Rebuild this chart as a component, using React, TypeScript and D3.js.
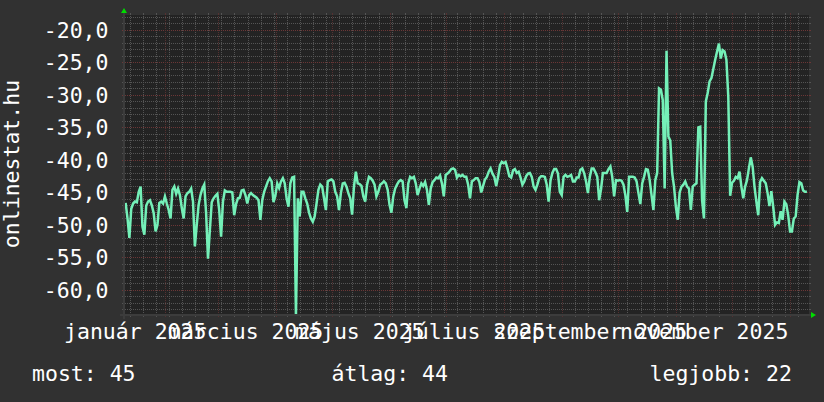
import React from "react";
import * as d3 from "d3";

// ---------- data ----------
const MONTH_NAMES = [
  "január", "február", "március", "április", "május", "június",
  "július", "augusztus", "szeptember", "október", "november", "december",
];

// first daily sample (local time)
const DATA_START = new Date(2025, 0, 10, 21);

// daily values as plotted (negated rank), 365 days
const VALUES = [
  -46.6, -49, -52, -47.5, -46.7, -46.4, -46.5, -44.9, -44.1, -50.3,
  -51.5, -47, -46.4, -46.2, -47, -48.2, -51, -50, -46.6, -46.4,
  -46.7, -45.6, -46.7, -47.7, -49, -44.6, -44.1, -45.2, -44.4, -45.4,
  -47.4, -49, -45.6, -45.1, -44.9, -44.4, -46.4, -53.3, -50, -46.9,
  -45.4, -44.4, -43.8, -48.2, -55.2, -50.8, -46.5, -45.9, -45.5, -45.2,
  -47.7, -51.8, -46.4, -44.7, -44.9, -44.9, -44.9, -45, -48.5, -46.8,
  -45.9, -45.8, -44.7, -44.6, -45.4, -46.7, -45.4, -45.1, -45.4, -45.6,
  -45.8, -46.2, -49.2, -46.2, -44.9, -44.1, -43.3, -42.8, -43.3, -46.5,
  -45.5, -43.6, -44.3, -43.3, -42.8, -43.6, -45.9, -47.2, -43.6, -42.7,
  -42.6, -64, -45.9, -48.7, -44.9, -44.9, -45.9, -46.7, -48.1, -49,
  -49.5, -48.7, -46.7, -44.6, -43.8, -44.1, -45.9, -47.7, -43.3, -43.1,
  -43, -43.3, -44.9, -45.6, -47.7, -45.1, -43.6, -43.5, -44.1, -45.1,
  -45.9, -48.4, -44.1, -41.8, -43.6, -43.7, -44, -45.6, -46.4, -43.8,
  -42.6, -42.8, -43.2, -43.8, -45.6, -44.9, -43.8, -43.6, -43.3, -43.6,
  -44.6, -46.9, -48.1, -45.6, -44.4, -43.8, -43.3, -43.1, -43.3, -46.2,
  -47.4, -43.6, -42.6, -42.8, -42.6, -43.6, -45.4, -44.4, -43.6, -44,
  -43.4, -44.6, -46.9, -44.4, -43.4, -43.1, -42.7, -42.8, -42.4, -43.6,
  -45.6, -42.3, -42.1, -41.8, -41.4, -41.3, -41.5, -42.7, -42.3, -42.5,
  -42.3, -42.6, -42.6, -43.8, -45.9, -43.3, -43.1, -42.8, -42.8, -43.4,
  -45, -44, -43, -42.6, -41.8, -41.3, -42.1, -42.6, -44, -42.6,
  -40.8, -40.3, -40.5, -40.3, -41.3, -42.5, -42.7, -41.6, -41.4, -42,
  -41.8, -42.7, -43.8, -43.3, -42.5, -42.1, -42, -42.6, -44.1, -44.6,
  -43.8, -42.8, -42.5, -42.5, -42.6, -43.8, -46.4, -43.2, -42, -41.4,
  -41.4, -42.1, -44.9, -45.4, -42.6, -42.3, -42.6, -42.5, -42.3, -43.3,
  -43.3, -42.7, -42.7, -41.5, -41.3, -42.05, -43.3, -45.1, -42.6, -41.3,
  -41.3, -41.9, -42.6, -46.2, -44.5, -42, -42, -42, -41.4, -41,
  -42.6, -45.6, -43.1, -43.2, -43.1, -43.2, -43.8, -45.4, -48, -42.6,
  -42.6, -42.6, -42.7, -43.3, -45.1, -46.8, -43.6, -42.6, -41.4, -41.5,
  -43.1, -45.4, -47.7, -43.1, -42, -29, -29.2, -30.8, -44.4, -23.2,
  -36.4, -37, -42, -44.1, -47.2, -49.2, -45, -44.1, -43.8, -43.3,
  -44.1, -44.4, -47.7, -44.1, -43.8, -43.6, -35, -34.9, -46.2, -49,
  -31, -29.7, -27.9, -27.4, -26, -24.6, -23.3, -22.1, -24.4, -23.1,
  -23.3, -24.6, -30.3, -45.5, -43.5, -43.2, -42.6, -42.8, -41.8, -44.1,
  -45.9, -44.1, -43.1, -41.3, -39.6, -41, -44.1, -46.4, -48.5, -43.4,
  -42.8, -43.2, -43.6, -45.1, -47.1, -44.8, -47.2, -50, -49.6, -49.7,
  -47.9, -49.2, -46.4, -46.8, -48.5, -51, -51, -49, -48.7, -45.4,
  -43.4, -43.6, -44.7, -44.9, -44.9,
];

const Y_TICKS = [-20, -25, -30, -35, -40, -45, -50, -55, -60];
const AXIS_TITLE = "onlinestat.hu";
const LEGEND_LABELS = ["most", "átlag", "legjobb"];
const LEGEND_VALUES = [45, 44, 22];

// ---------- layout ----------
const W = 824;
const H = 402;
const X0 = 124;
const X1 = 809;
const Y0 = 315; // bottom of plot
const Y1 = 15; // top of plot
const T_START = new Date(2025, 0, 10);
const T_END = new Date(2026, 0, 11);
const V_MIN = -63.85;
const V_MAX = -17.7;

const BACK = "#313131";
const CANVAS = "#232323";
const GRID = "#545454";
const MGRID = "#6c3636";
const MGRID_V = "#553131";
const AXIS = "#3c3c3c";
const ARROW = "#00dd00";
const LINE = "#74f0b8";
const FONT = "'DejaVu Sans Mono', monospace";
const FS = 21.5;
const LEGEND_X = [32, 331.5, 649.5];

export default function App() {
  const x = d3.scaleTime().domain([T_START, T_END]).range([X0, X1]);
  const y = d3.scaleLinear().domain([V_MIN, V_MAX]).range([Y0, Y1]);

  const pts = VALUES.map((v, i) => ({ t: d3.timeDay.offset(DATA_START, i), v }));
  const path = d3
    .line<{ t: Date; v: number }>()
    .x((d) => x(d.t))
    .y((d) => y(d.v))(pts) as string;

  const hVals = d3.range(Math.ceil(V_MIN), Math.floor(V_MAX) + 1);
  const hMinor = hVals.filter((v) => v % 5 !== 0);
  const hMajor = hVals.filter((v) => v % 5 === 0);

  const months = d3.timeMonth.range(T_START, T_END);
  const monthKeys = new Set(months.map((m) => +m));
  const weeks = d3.timeMonday.range(T_START, T_END).filter((w) => !monthKeys.has(+w));

  const labelMonths = d3
    .timeMonth.range(d3.timeYear.floor(T_START), T_END)
    .filter((m) => m.getMonth() % 2 === 0)
    .map((m) => ({ m, t: d3.timeDay.offset(m, 15) }))
    .filter((d) => d.t <= T_END);

  const px = (v: number) => Math.round(v) + 0.5;

  const hLine = (v: number, color: string, key: string) => {
    const yy = px(y(v));
    return (
      <g key={key}>
        <line x1={X0 - 2} x2={X0} y1={yy} y2={yy} stroke={color} strokeWidth={1} />
        <line x1={X1} x2={X1 + 2} y1={yy} y2={yy} stroke={color} strokeWidth={1} />
        <line x1={X0 - 1} x2={X1 + 1} y1={yy} y2={yy} stroke={color} strokeWidth={1} strokeDasharray="1 1" />
      </g>
    );
  };
  const vLine = (t: Date, color: string, key: string) => {
    const xx = px(x(t));
    return (
      <g key={key}>
        <line x1={xx} x2={xx} y1={Y1 - 2} y2={Y1} stroke={color} strokeWidth={1} />
        <line x1={xx} x2={xx} y1={Y0} y2={Y0 + 2} stroke={color} strokeWidth={1} />
        <line x1={xx} x2={xx} y1={Y1 - 1} y2={Y0 + 1} stroke={color} strokeWidth={1} strokeDasharray="1 1" />
      </g>
    );
  };

  return (
    <div style={{ position: "absolute", left: 0, top: 0, width: W, height: H }}>
      <svg width={W} height={H} style={{ display: "block" }} fontFamily={FONT}>
        <defs>
          <clipPath id="plotclip">
            <rect x={X0} y={Y1} width={X1 - X0} height={Y0 - Y1 + 1} />
          </clipPath>
        </defs>
        <rect x={0} y={0} width={W} height={H} fill={BACK} />
        <rect x={X0} y={Y1} width={X1 - X0} height={Y0 - Y1} fill={CANVAS} />

        <g shapeRendering="crispEdges">
          {hMinor.map((v) => hLine(v, GRID, "hm" + v))}
          {weeks.map((w) => vLine(w, GRID, "vw" + +w))}
          {hMajor.map((v) => hLine(v, MGRID, "hM" + v))}
          {months.map((m) => vLine(m, MGRID_V, "vM" + +m))}
        </g>

        <path d={path} fill="none" stroke={LINE} strokeWidth={2.5} strokeLinejoin="miter" clipPath="url(#plotclip)" />

        <g shapeRendering="crispEdges">
          <line x1={X0 - 4} x2={X1 + 4} y1={Y0} y2={Y0} stroke={AXIS} strokeWidth={2} />
          <line x1={X0} x2={X0} y1={Y0 + 4} y2={Y1 - 4} stroke={AXIS} strokeWidth={2} />
        </g>
        <polygon points={`${X1 + 2},${Y0 - 3} ${X1 + 2},${Y0 + 3} ${X1 + 7},${Y0}`} fill={ARROW} />
        <polygon points={`${X0 - 3},${Y1 - 2} ${X0 + 3},${Y1 - 2} ${X0},${Y1 - 7}`} fill={ARROW} />

        <g fill="#ffffff" fontSize={FS}>
          {Y_TICKS.map((v) => (
            <text key={"yt" + v} x={108.5} y={y(v) + 7.6} textAnchor="end">
              {d3.format(".1f")(v).replace(".", ",").replace("−", "-")}
            </text>
          ))}
          {labelMonths.map((d) => (
            <text key={"xl" + +d.m} x={x(d.t)} y={339} textAnchor="middle">
              {`${MONTH_NAMES[d.m.getMonth()]} ${d.m.getFullYear()}`}
            </text>
          ))}
          <text transform={`translate(18.5, 164) rotate(-90)`} textAnchor="middle">
            {AXIS_TITLE}
          </text>
          {LEGEND_LABELS.map((l, i) => (
            <text key={"lg" + i} x={LEGEND_X[i]} y={381} xmlSpace="preserve">
              {`${l}: ${LEGEND_VALUES[i]}`}
            </text>
          ))}
        </g>
      </svg>
    </div>
  );
}
